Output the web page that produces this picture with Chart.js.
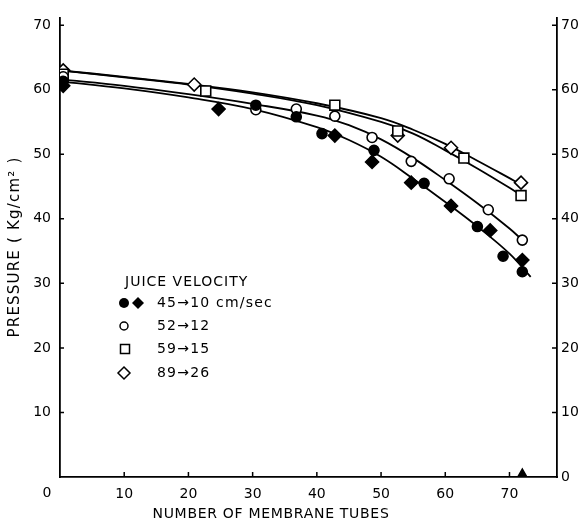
<!doctype html>
<html>
<head>
  <meta charset="utf-8">
  <script src="https://cdn.jsdelivr.net/npm/chart.js@4/dist/chart.umd.min.js"></script>
  <style>
    body { margin: 0; background: #fff; }
    #wrap { width: 583px; height: 525px; }
  </style>
</head>
<body>
  <div id="wrap"><canvas id="c"></canvas></div>
  <script>
    const xTicks = [0, 10, 20, 30, 40, 50, 60, 70];
    const yTicks = [0, 10, 20, 30, 40, 50, 60, 70];

    // measured points [tubes, pressure]
    const filledCircles = [[0.5,61.3],[30.5,57.6],[36.8,55.8],[40.8,53.2],[48.9,50.6],[56.7,45.5],[65,38.8],[69,34.2],[72,31.8]];
    const filledDiamonds = [[0.5,60.6],[24.7,57.0],[42.8,52.9],[48.6,48.8],[54.7,45.6],[60.9,42.0],[67,38.2],[72,33.6]];
    const openCircles = [[0.5,62.0],[30.5,56.9],[36.8,57.0],[42.8,55.9],[48.6,52.6],[54.7,48.9],[60.6,46.2],[66.7,41.4],[72,36.7]];
    const squares = [[0.5,62.4],[22.7,59.8],[42.8,57.6],[52.6,53.6],[62.9,49.4],[71.8,43.6]];
    const openDiamonds = [[0.5,63.0],[20.9,60.8],[52.6,52.9],[60.9,51.0],[71.8,45.6]];
    const axisMark = [[72,0.6]];

    // fitted curves
    const curveAx = [0, 10, 20, 30, 40, 45, 50, 55, 60, 65, 70, 73.3];
    const curveAy = [61.3, 60.2, 58.8, 57.0, 54.2, 52.2, 49.6, 46.2, 42.6, 38.8, 34.6, 31.0];
    const curveBx = [0, 10, 20, 30, 40, 45, 50, 55, 60, 65, 70, 72];
    const curveBy = [61.6, 60.6, 59.3, 57.8, 56.0, 54.5, 52.3, 49.4, 46.0, 42.4, 38.5, 36.7];
    const curveCx = [0, 10, 20, 30, 40, 50, 55, 60, 65, 70, 72];
    const curveCy = [63.0, 61.9, 60.8, 59.4, 57.6, 55.0, 53.2, 50.6, 47.8, 44.8, 43.5];
    const curveDx = [0, 10, 20, 30, 40, 50, 55, 60, 65, 70, 72];
    const curveDy = [63.0, 62.0, 60.9, 59.6, 57.9, 55.6, 53.8, 51.6, 49.0, 46.3, 45.2];

    const legendTitle = 'JUICE VELOCITY';
    const legendLabels = ['45\u219210 cm/sec', '52\u219212', '59\u219215', '89\u219226'];
    const xTitle = 'NUMBER OF MEMBRANE TUBES';
    const yTitle = 'PRESSURE ( Kg/cm\u00b2 )';

    const FONT = '"DejaVu Sans", sans-serif';
    const pts = a => a.map(p => ({x: p[0], y: p[1]}));
    const curve = (xs, ys) => xs.map((x, i) => ({x: x, y: ys[i]}));

    function markers(data, style, r, fill) {
      return {
        data: pts(data), pointStyle: style, pointRadius: r, pointHoverRadius: r,
        pointBackgroundColor: fill ? '#000' : '#fff', pointBorderColor: '#000',
        pointBorderWidth: 1.6, showLine: false, order: 1
      };
    }
    function line(xs, ys) {
      return {
        data: curve(xs, ys), showLine: true, pointRadius: 0, borderColor: '#000',
        borderWidth: 1.8, tension: 0.4, order: 2
      };
    }

    const decor = {
      id: 'decor',
      afterDraw(chart) {
        const ctx = chart.ctx;
        const xs = chart.scales.x, yl = chart.scales.y;
        const ca = chart.chartArea;
        ctx.save();
        ctx.strokeStyle = '#000';
        ctx.lineWidth = 1.5;
        ctx.beginPath();
        xTicks.forEach(v => {
          const px = xs.getPixelForValue(v);
          if (v > 0) { ctx.moveTo(px, ca.bottom); ctx.lineTo(px, ca.bottom - 5); }
        });
        yTicks.forEach(v => {
          const py = yl.getPixelForValue(v);
          if (v > 0) {
            ctx.moveTo(ca.left, py); ctx.lineTo(ca.left + 4, py);
            ctx.moveTo(ca.right, py); ctx.lineTo(ca.right - 5, py);
          }
        });
        ctx.stroke();

        ctx.fillStyle = '#000';
        ctx.textBaseline = 'middle';
        ctx.font = '14px ' + FONT;
        ctx.textAlign = 'center';
        ctx.fillText('0', 47, 493);
        ctx.letterSpacing = '0.7px';
        ctx.fillText(xTitle, 271, 514);

        // y title
        ctx.save();
        ctx.translate(15, 247);
        ctx.rotate(-Math.PI / 2);
        ctx.font = '15px ' + FONT;
        ctx.letterSpacing = '1.2px';
        ctx.fillText(yTitle, 0, 0);
        ctx.restore();

        // legend
        ctx.textAlign = 'left';
        ctx.letterSpacing = '1px';
        ctx.fillText(legendTitle, 125, 282);
        ctx.letterSpacing = '1.2px';
        const rows = [303, 326, 349, 373];
        legendLabels.forEach((t, i) => ctx.fillText(t, 157, rows[i]));

        ctx.lineWidth = 1.5;
        ctx.beginPath(); ctx.arc(124, rows[0], 5, 0, Math.PI * 2); ctx.fill();
        ctx.beginPath();
        ctx.moveTo(138, rows[0] - 6); ctx.lineTo(144, rows[0]); ctx.lineTo(138, rows[0] + 6); ctx.lineTo(132, rows[0]);
        ctx.closePath(); ctx.fill();
        ctx.beginPath(); ctx.arc(124, rows[1], 4, 0, Math.PI * 2); ctx.stroke();
        ctx.strokeRect(120.5, rows[2] - 4.5, 9, 9);
        ctx.beginPath();
        ctx.moveTo(124, rows[3] - 6); ctx.lineTo(130, rows[3]); ctx.lineTo(124, rows[3] + 6); ctx.lineTo(118, rows[3]);
        ctx.closePath(); ctx.stroke();
        ctx.restore();
      }
    };

    const tickCfg = {color: '#000', font: {family: FONT, size: 14}};

    new Chart(document.getElementById('c').getContext('2d'), {
      type: 'scatter',
      data: {
        datasets: [
          markers(filledCircles, 'circle', 5, true),
          markers(filledDiamonds, 'rectRot', 6.5, true),
          markers(openCircles, 'circle', 5, false),
          markers(squares, 'rect', 7, false),
          markers(openDiamonds, 'rectRot', 6.5, false),
          markers(axisMark, 'triangle', 4, true),
          line(curveAx, curveAy),
          line(curveBx, curveBy),
          line(curveCx, curveCy),
          line(curveDx, curveDy)
        ]
      },
      options: {
        responsive: true,
        maintainAspectRatio: false,
        animation: false,
        layout: {padding: {top: 10, right: 0, left: 0, bottom: 0}},
        plugins: {legend: {display: false}, tooltip: {enabled: false}},
        scales: {
          x: {
            type: 'linear', position: 'bottom', min: 0, max: 77.4,
            afterBuildTicks: s => { s.ticks = xTicks.map(v => ({value: v})); },
            afterFit: s => { s.height = 48; },
            grid: {display: false, drawTicks: false},
            border: {display: true, color: '#000', width: 1.8},
            ticks: Object.assign({padding: 9, maxRotation: 0, callback: v => v === 0 ? '' : v}, tickCfg)
          },
          y: {
            type: 'linear', position: 'left', min: 0, max: 71.2,
            afterBuildTicks: s => { s.ticks = yTicks.map(v => ({value: v})); },
            afterFit: s => { s.width = 60; },
            grid: {display: false, drawTicks: false},
            border: {display: true, color: '#000', width: 1.8},
            ticks: Object.assign({padding: 9, callback: v => v === 0 ? '' : v}, tickCfg)
          },
          y2: {
            type: 'linear', position: 'right', min: 0, max: 71.2,
            afterBuildTicks: s => { s.ticks = yTicks.map(v => ({value: v})); },
            afterFit: s => { s.width = 26; },
            grid: {display: false, drawTicks: false},
            border: {display: true, color: '#000', width: 1.8},
            ticks: Object.assign({padding: 4}, tickCfg)
          }
        }
      },
      plugins: [decor]
    });
  </script>
</body>
</html>
